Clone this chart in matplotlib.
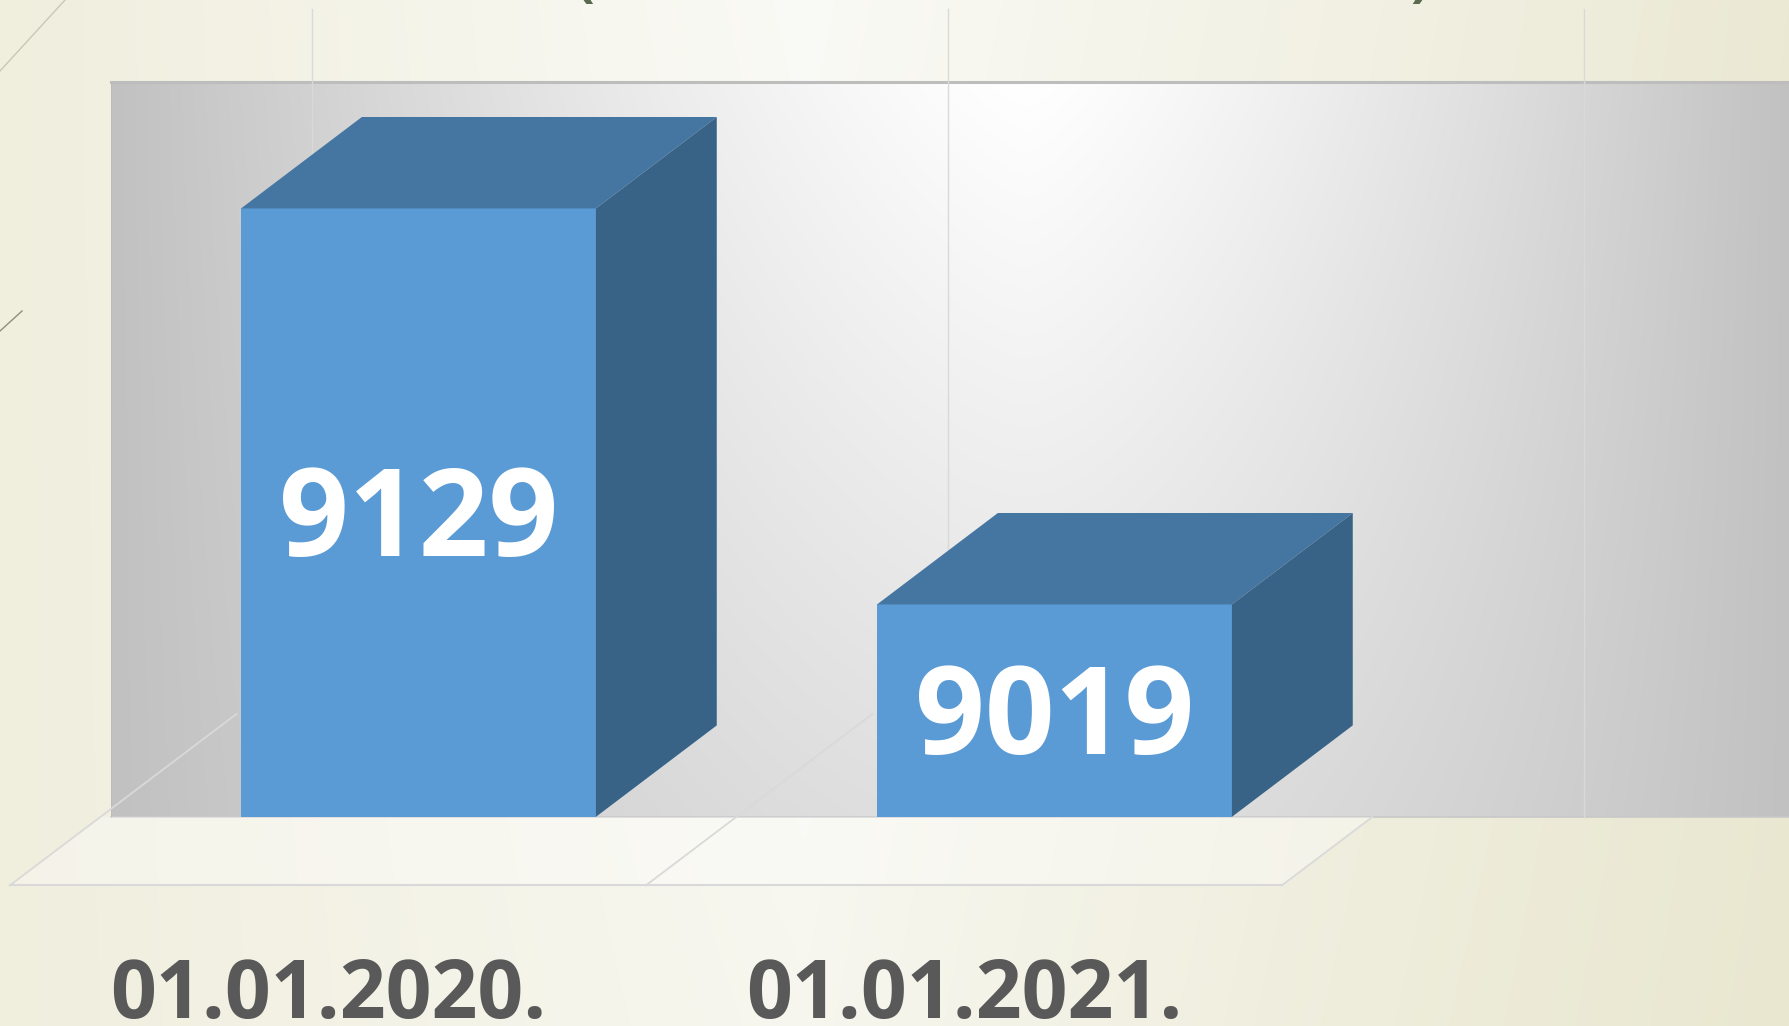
import numpy as np
import matplotlib.pyplot as plt
from matplotlib.patches import Polygon
from matplotlib.lines import Line2D

# podaci
categories = ['01.01.2020.', '01.01.2021.']
values = [9129, 9019]
y_min = 8960      # pocetak vertikalne ose
y_wall_top = 9164  # vrh zadnjeg zida

# geometrija 3D izgleda (u jedinicama podataka)
bar_w = 0.558
ddx, ddy = 0.190, 25.4   # dubina stupca
font = 'Open Sans'

fig = plt.figure(figsize=(17.9, 10.26), dpi=100)

# pozadina slajda
bg = fig.add_axes([0, 0, 1, 1])
bg.axis('off')
xs = np.linspace(0, 1, 400)
ys = np.linspace(0, 1, 200)[:, None]
stops = [0, 0.45, 1]
cols = np.array([[240, 238, 221], [250, 250, 246], [235, 233, 212]])
img = np.zeros((200, 400, 3))
for c in range(3):
    img[:, :, c] = np.interp(xs, stops, cols[:, c])[None, :]
mix = (ys * xs[None, :]) * 0.35
img = img * (1 - mix[:, :, None]) + np.array([230, 228, 200]) * mix[:, :, None]
bg.imshow(img / 255, extent=[0, 1, 0, 1], aspect='auto', interpolation='bicubic')
bg.set_xlim(0, 1)
bg.set_ylim(0, 1)

ax = fig.add_axes([0, 0, 1, 1])
ax.patch.set_alpha(0)
x_lo, x_hi = -0.658, 2.1565
y_lo, y_hi = 8901.9, 9186.9

# zadnji zid sa gradijentom
wall_left = -0.4835
wx = np.linspace(wall_left, x_hi, 500)
wy = np.linspace(0, 1, 150)[:, None]
cx = 0.957
d = np.where(wx < cx, (cx - wx) / (cx - wall_left), (wx - cx) / (x_hi - cx))
d = np.clip(d, 0, 1)[None, :]
g = 255 - 62 * d ** 1.3 - 32 * wy * (1 - d)
wall = np.clip(np.repeat(g[:, :, None], 3, axis=2) / 255, 0, 1)
ax.imshow(wall, extent=[wall_left, x_hi, y_min, y_wall_top], aspect='auto',
          interpolation='bicubic', zorder=1)
ax.plot([wall_left, x_hi], [y_wall_top, y_wall_top], color='#bdbdbd', lw=2.2, zorder=2)
ax.plot([wall_left, x_hi], [y_min, y_min], color='#c8c8c8', lw=1.2, zorder=2)
ax.plot([wall_left, wall_left], [y_min, y_wall_top], color='#bbbbbb', lw=0.6, zorder=2)

# vertikalne linije mreze
bounds = np.arange(len(categories) + 1) - 0.5
for b in bounds:
    gx = b + 1.75 * ddx
    ax.plot([gx, gx], [y_min, 9184.4], color='#d9d9d9', lw=1.0, zorder=2)

# pod
f_front = y_min - 0.75 * ddy
f_back = y_min + 1.125 * ddy
fx0 = -0.5 - 0.75 * ddx
fx1 = bounds[-1] - 0.75 * ddx
k = (y_min - f_front) / ddy
floor = Polygon([(fx0, f_front), (fx1, f_front), (fx1 + k * ddx, y_min), (fx0 + k * ddx, y_min)],
                closed=True, facecolor='white', alpha=0.35, edgecolor='none', zorder=2)
ax.add_patch(floor)
ax.plot([fx0, fx1], [f_front, f_front], color='#d9d9d9', lw=1.5, zorder=3)
for i, b in enumerate(bounds):
    x0 = b - 0.75 * ddx
    top = f_back if i < len(bounds) - 1 else y_min
    kk = (top - f_front) / ddy
    ax.plot([x0, x0 + kk * ddx], [f_front, top], color='#d9d9d9', lw=1.3, zorder=3)

# stupci
pos = np.arange(len(categories))
ax.bar(pos, np.array(values) - y_min, bottom=y_min, width=bar_w,
       color='#5b9bd5', edgecolor='none', zorder=5)
for x, v in zip(pos, values):
    l, r = x - bar_w / 2, x + bar_w / 2
    ax.add_patch(Polygon([(l, v), (r, v), (r + ddx, v + ddy), (l + ddx, v + ddy)],
                         facecolor='#4576a1', edgecolor='none', zorder=5))
    ax.add_patch(Polygon([(r, y_min), (r + ddx, y_min + ddy), (r + ddx, v + ddy), (r, v)],
                         facecolor='#386387', edgecolor='none', zorder=5))

# vrijednosti na stupcima
lab_fs = 88
sy = 3.6  # piksela po jedinici
half_cap = 0.714 * lab_fs * 100 / 72 / 2 / sy
for x, v in zip(pos, values):
    ax.text(x, (y_min + v) / 2 - half_cap, str(v), ha='center', va='baseline',
            fontsize=lab_fs, fontweight='bold', family=font, color='white', zorder=6)

# kategorije
for x, c in zip(pos, categories):
    ax.text(x - 0.75 * ddx, 8904.0, c, ha='center', va='baseline', fontsize=58,
            fontweight='bold', family=font, color='#595959', zorder=6)

ax.set_xlim(x_lo, x_hi)
ax.set_ylim(y_lo, y_hi)
ax.axis('off')

# ukrasi slajda i odsjeceni naslov
fig.add_artist(Line2D([0, 65 / 1790], [1 - 71 / 1026, 1], transform=fig.transFigure,
                      color='#c9c8b4', lw=1.0))
fig.add_artist(Line2D([0, 22 / 1790], [1 - 331 / 1026, 1 - 311 / 1026],
                      transform=fig.transFigure, color='#8f8f80', lw=1.0))
fig.text(585 / 1790, 1 + 5 / 1026, '(', fontsize=40, fontweight='bold', family=font,
         color='#5a6b4f', ha='center', va='baseline')
fig.text(1420 / 1790, 1 + 5 / 1026, ')', fontsize=40, fontweight='bold', family=font,
         color='#5a6b4f', ha='center', va='baseline')

fig.savefig('out.png', dpi=100)
